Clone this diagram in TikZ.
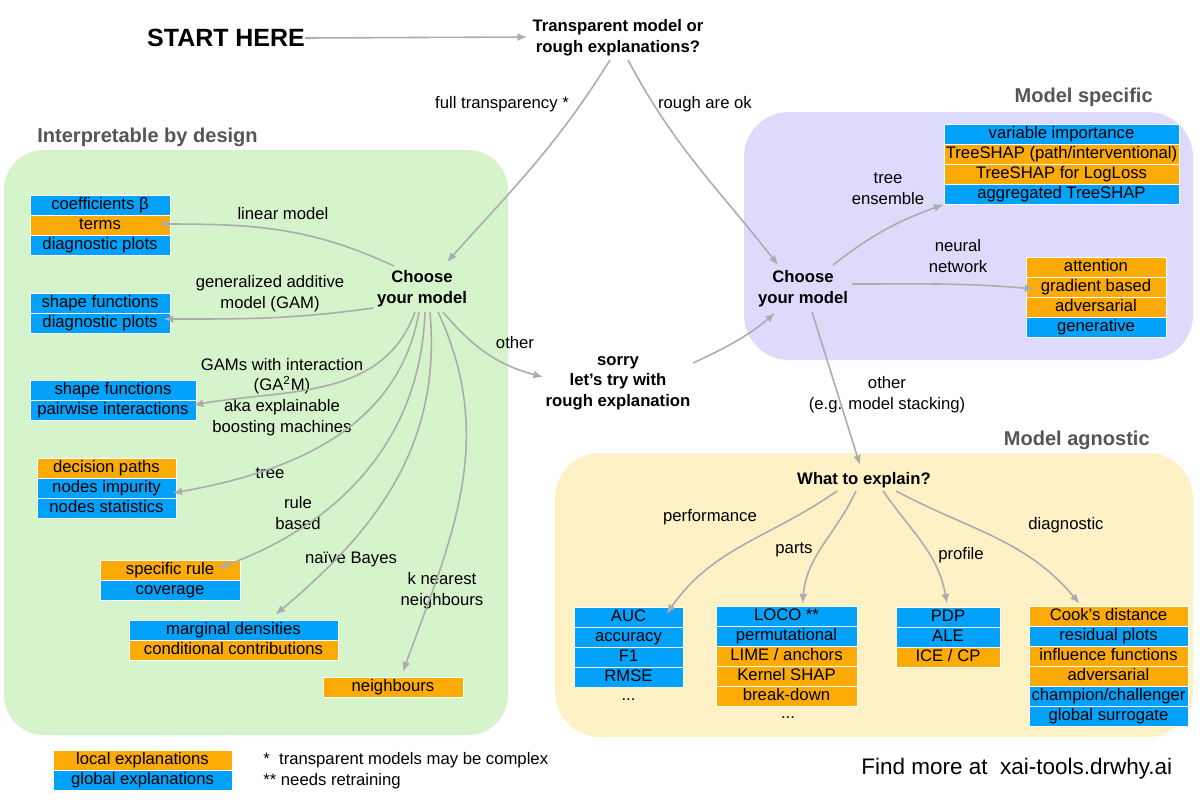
\documentclass[tikz,border=0pt]{standalone}
\usepackage{fontspec}
\setmainfont{Liberation Sans}
\usetikzlibrary{arrows.meta,calc}

\definecolor{gblue}{HTML}{03A2FA}
\definecolor{lorange}{HTML}{FCAA05}
\definecolor{greenbg}{HTML}{D5F4CB}
\definecolor{purplebg}{HTML}{DDDAFC}
\definecolor{yellowbg}{HTML}{FEF1C6}
\definecolor{agray}{HTML}{ACACAC}
\definecolor{tgray}{HTML}{555555}

\newcommand{\rowsize}{\fontsize{9.5}{11.8}\selectfont}

\tikzset{
    row/.style={rectangle, inner sep=0pt, minimum height=0.4cm, draw=white, line width=0.5pt,
        font=\rowsize, text height=6.9pt, text depth=1.9pt},
    glob/.style={row, fill=gblue},
    loc/.style={row, fill=lorange},
    lbl/.style={font=\rowsize, align=center, inner sep=0pt},
    ask/.style={font=\rowsize\bfseries, align=center, inner sep=0pt},
    area/.style={font=\fontsize{11.4}{13}\selectfont\bfseries, text=tgray, inner sep=0pt},
    flow/.style={draw=agray, line width=0.9pt, -{Latex[length=5.5pt,width=4.5pt]}}
}

\begin{document}
\begin{tikzpicture}[x=0.02cm, y=-0.02cm]
    \useasboundingbox (0,0) rectangle (1200,799);

    % areas
    \fill[greenbg, rounded corners=0.8cm] (4,150) rectangle (508,735);
    \fill[purplebg, rounded corners=0.9cm] (744,112) rectangle (1193,360);
    \fill[yellowbg, rounded corners=0.9cm] (555,453) rectangle (1193,737);
    \node[area, anchor=west] (tinterp) at (37,137) {Interpretable by design};
    \node[area, anchor=east] (tspec) at (1153,97) {Model specific};
    \node[area, anchor=east] (tagn) at (1150,440) {Model agnostic};

    % questions
    \node[font=\fontsize{14.2}{16}\selectfont\bfseries, inner sep=0pt] (start) at (226,38) {START HERE};
    \node[ask] (transp) at (618,38) {Transparent model or\\rough explanations?};
    \node[ask] (chooseL) at (422,289) {Choose\\your model};
    \node[ask] (chooseR) at (803,289) {Choose\\your model};
    \node[ask] (sorry) at (618,383) {sorry\\let's try with\\rough explanation};
    \node[ask] (what) at (864,480) {What to explain?};

    % interpretable by design
    \foreach \c/\t [count=\i] in {glob/{coefficients β}, loc/terms, glob/{diagnostic plots}}
        \node[\c, minimum width=2.8cm] (lin\i) at (100,185+20*\i) {\t};
    \foreach \c/\t [count=\i] in {glob/{shape functions}, glob/{diagnostic plots}}
        \node[\c, minimum width=2.8cm] (gam\i) at (100,283+20*\i) {\t};
    \foreach \c/\t [count=\i] in {glob/{shape functions}, glob/{pairwise interactions}}
        \node[\c, minimum width=3.32cm] (gaa\i) at (113,370+20*\i) {\t};
    \foreach \c/\t [count=\i] in {loc/{decision paths}, glob/{nodes impurity}, glob/{nodes statistics}}
        \node[\c, minimum width=2.78cm] (tree\i) at (106.5,448+20*\i) {\t};
    \foreach \c/\t [count=\i] in {loc/{specific rule}, glob/coverage}
        \node[\c, minimum width=2.8cm] (rule\i) at (170,550+20*\i) {\t};
    \foreach \c/\t [count=\i] in {glob/{marginal densities}, loc/{conditional contributions}}
        \node[\c, minimum width=4.18cm] (nb\i) at (233.5,610+20*\i) {\t};
    \node[loc, minimum width=2.8cm] (knn1) at (393,687) {neighbours};

    % model specific
    \foreach \c/\t [count=\i] in {glob/{variable importance}, loc/{TreeSHAP (path/interventional)},
                                 loc/{TreeSHAP for LogLoss}, glob/{aggregated TreeSHAP}}
        \node[\c, minimum width=4.7cm] (te\i) at (1061.5,114+20*\i) {\t};
    \foreach \c/\t [count=\i] in {loc/attention, loc/{gradient based}, loc/adversarial, glob/generative}
        \node[\c, minimum width=2.8cm] (nn\i) at (1096,247+20*\i) {\t};

    % model agnostic
    \foreach \c/\t [count=\i] in {glob/AUC, glob/accuracy, glob/F1, glob/RMSE}
        \node[\c, minimum width=2.18cm] (perf\i) at (628.5,597+20*\i) {\t};
    \node[lbl] (perfdots) at (628.5,700) {...};
    \foreach \c/\t [count=\i] in {glob/{LOCO **}, glob/permutational, loc/{LIME / anchors},
                                 loc/{Kernel SHAP}, loc/break-down}
        \node[\c, minimum width=2.82cm] (parts\i) at (786.5,596+20*\i) {\t};
    \node[lbl] (partsdots) at (788,718) {...};
    \foreach \c/\t [count=\i] in {glob/PDP, glob/ALE, loc/{ICE / CP}}
        \node[\c, minimum width=2.08cm] (prof\i) at (948,597+20*\i) {\t};
    \foreach \c/\t [count=\i] in {loc/{Cook's distance}, glob/{residual plots}, loc/{influence functions},
                                 loc/adversarial, glob/{champion/challenger}, glob/{global surrogate}}
        \node[\c, minimum width=3.18cm] (diag\i) at (1108.5,596+20*\i) {\t};

    % labels
    \node[lbl] (lfull) at (502,104) {full transparency *};
    \node[lbl] (lrough) at (705,104) {rough are ok};
    \node[lbl] (llin) at (283,214) {linear model};
    \node[lbl] (lgam) at (270,294) {generalized additive\\model (GAM)};
    \node[lbl] (lgaa) at (282,397) {GAMs with interaction\\(GA\textsuperscript{2}M)\\aka explainable\\boosting machines};
    \node[lbl] (ltree) at (270,473) {tree};
    \node[lbl] (lrule) at (298,513) {rule\\based};
    \node[lbl] (lnb) at (351,559) {naïve Bayes};
    \node[lbl] (lknn) at (442,591) {k nearest\\neighbours};
    \node[lbl] (lother) at (515,343) {other};
    \node[lbl] (lte) at (888,189) {tree\\ensemble};
    \node[lbl] (lnn) at (958,256) {neural\\network};
    \node[lbl] (lstack) at (887,395) {other\\(e.g. model stacking)};
    \node[lbl] (lperf) at (710,517) {performance};
    \node[lbl] (lparts) at (794,550) {parts};
    \node[lbl] (lprof) at (961,555) {profile};
    \node[lbl] (ldiag) at (1066,525) {diagnostic};

    % arrows
    \draw[flow] (start.east) -- ($(transp)+(-91,-1)$);
    \draw[flow] ($(transp)+(-8,22)$) to[out=-122,in=48] ($(chooseL)+(25,-27)$);
    \draw[flow] ($(transp)+(10,22)$) to[out=-62,in=128] ($(chooseR)+(-25,-24)$);
    \draw[flow] ($(chooseL)+(-28,-23)$) to[out=155,in=0] ($(lin2.east)+(-12,-1)$);
    \draw[flow] ($(chooseL)+(-49,19)$) to[out=188,in=0] ($(gam2.east)+(-7,-4)$);
    \draw[flow] ($(chooseL)+(-7,23)$) to[out=250,in=10] ($(gaa2.east)+(-3,-5)$);
    \draw[flow] ($(chooseL)+(-3,23)$) to[out=260,in=10] ($(tree2.east)+(-4,5)$);
    \draw[flow] ($(chooseL)+(3,23)$) to[out=268,in=20] ($(rule1.east)+(-22,-2)$);
    \draw[flow] ($(chooseL)+(8,23)$) to[out=-85,in=40] ($(nb1.north)+(42,-5)$);
    \draw[flow] ($(chooseL)+(16,23)$) to[out=-65,in=70] ($(knn1.north)+(10,-5)$);
    \draw[flow] ($(chooseL)+(21,23)$) to[out=-50,in=165] ($(sorry)+(-75,-6)$);
    \draw[flow] ($(sorry)+(75,-20)$) to[out=25,in=220] ($(chooseR)+(-28,24)$);
    \draw[flow] ($(chooseR)+(30,-24)$) to[out=38,in=200] (te4.south west);
    \draw[flow] ($(chooseR)+(49,-5)$) to[out=0,in=175] ($(nn2.west)+(9,2)$);
    \draw[flow] ($(chooseR)+(9,23)$) -- ($(what)+(-4,-15)$);
    \draw[flow] ($(what)+(-27,11)$) to[out=-145,in=55] ($(perf1)+(38,-3)$);
    \draw[flow] ($(what)+(-8,11)$) to[out=-115,in=85] ($(parts1.north)+(16,-2)$);
    \draw[flow] ($(what)+(19,11)$) to[out=-55,in=100] ($(prof1.north)+(-1,-3)$);
    \draw[flow] ($(what)+(32,11)$) to[out=-28,in=130] ($(diag1.north)+(-29,-2)$);

    % key
    \foreach \c/\t [count=\i] in {loc/{local explanations}, glob/{global explanations}}
        \node[\c, minimum width=3.58cm] (key\i) at (142.5,740+20*\i) {\t};
    \node[lbl, anchor=west] (note1) at (263,760) {*\ \ transparent models may be complex};
    \node[lbl, anchor=west] (note2) at (263,781) {** needs retraining};
    \node[font=\fontsize{12.8}{15}\selectfont, anchor=west, inner sep=0pt] (findmore) at (861,769) {Find more at\ \ xai-tools.drwhy.ai};
\end{tikzpicture}
\end{document}
